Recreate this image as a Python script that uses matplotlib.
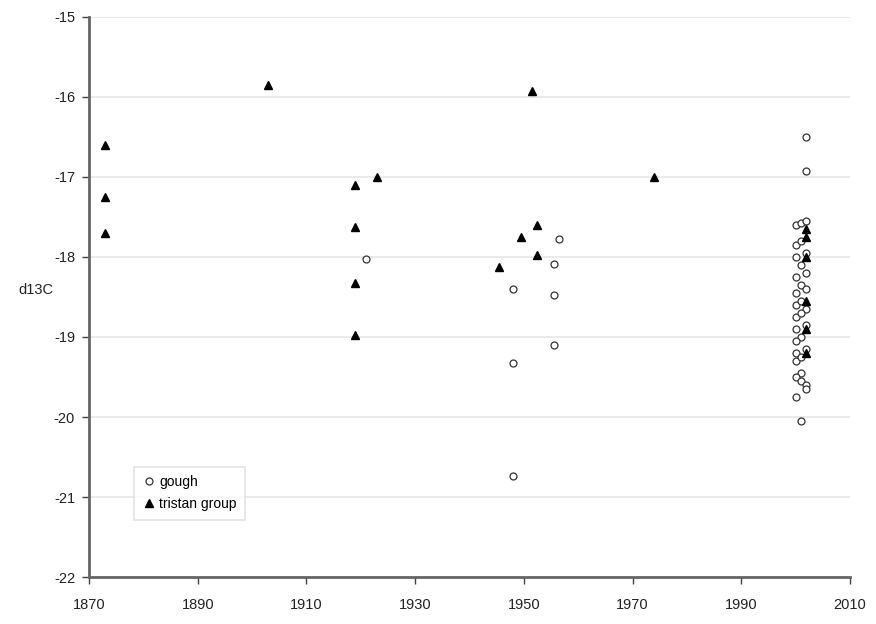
import numpy as np
import matplotlib
matplotlib.use("Agg")
import matplotlib.pyplot as plt

plt.rcParams['font.family'] = ['Liberation Sans', 'DejaVu Sans']
plt.rcParams['axes.unicode_minus'] = False

# gough samples (year, d13C)
gough_year = [1921, 1948, 1948, 1948, 1955.5, 1955.5, 1955.5, 1956.5,
              2002, 2002,
              2000, 2001, 2002, 2000, 2001, 2000, 2002, 2001, 2002,
              2000, 2001, 2000, 2002, 2000, 2001, 2002, 2000, 2001,
              2000, 2002, 2001, 2000, 2000, 2002, 2000, 2001, 2001,
              2000, 2001, 2002, 2000, 2002, 2001]
gough_d13c = [-18.03, -18.4, -19.33, -20.74, -18.09, -18.47, -19.1, -17.77,
              -16.5, -16.92,
              -17.6, -17.58, -17.55, -17.85, -17.8, -18.0, -17.95, -18.1, -18.2,
              -18.25, -18.35, -18.45, -18.4, -18.6, -18.55, -18.65, -18.75, -18.7,
              -18.9, -18.85, -19.0, -19.05, -19.2, -19.15, -19.3, -19.25, -19.45,
              -19.5, -19.55, -19.6, -19.75, -19.65, -20.05]

# tristan group samples
tristan_year = [1873, 1873, 1873, 1903, 1919, 1919, 1919, 1919, 1923,
                1945.5, 1949.5, 1951.5, 1952.5, 1952.5, 1974,
                2002, 2002, 2002, 2002, 2002, 2002]
tristan_d13c = [-16.6, -17.25, -17.7, -15.85, -17.1, -17.62, -18.33, -18.97, -17.0,
                -18.13, -17.75, -15.92, -17.6, -17.98, -17.0,
                -17.65, -17.75, -18.0, -18.55, -18.9, -19.2]

fig = plt.figure(figsize=(8.76, 6.24), dpi=100)
ax = fig.add_axes([0.1016, 0.0753, 0.8687, 0.8975])

ax.plot(gough_year, gough_d13c, 'o', ls='none', mfc='white', mec='#333333',
        mew=0.9, ms=5, label='gough', zorder=3)
ax.plot(tristan_year, tristan_d13c, '^', ls='none', color='black',
        ms=6, label='tristan group', zorder=4)

ax.set_xlim(1870, 2010)
ax.set_ylim(-22, -15)
ax.set_xticks(np.arange(1870, 2011, 20))
ax.set_yticks(np.arange(-22, -14, 1))
ax.yaxis.grid(True, color='#e6e6e6', lw=1.2)
ax.set_axisbelow(True)

for s in ['top', 'right']:
    ax.spines[s].set_visible(False)
for s in ['left', 'bottom']:
    ax.spines[s].set_color('#666666')
    ax.spines[s].set_linewidth(2)
ax.tick_params(axis='both', colors='#444444', labelcolor='#222222',
               labelsize=10.5, length=5, width=1)
ax.tick_params(axis='x', pad=10)
ax.tick_params(axis='y', pad=5)

ax.set_ylabel('d13C', rotation=0, fontsize=10.5, color='#222222')
ax.yaxis.set_label_coords(-0.07, 0.5)

leg = ax.legend(loc='lower left', bbox_to_anchor=(0.05, 0.09), fontsize=10,
                frameon=True, fancybox=False, handletextpad=0.2,
                handlelength=1.0, borderpad=0.6, labelspacing=0.6)
leg.get_frame().set_edgecolor('#dddddd')
leg.get_frame().set_linewidth(1.2)

fig.savefig('out.png', dpi=100)
